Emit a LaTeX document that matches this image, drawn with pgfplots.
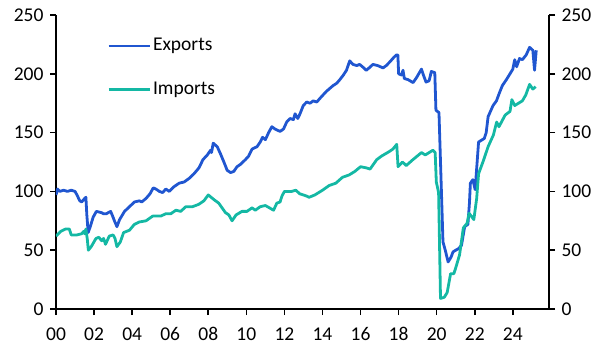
\documentclass[border=0pt]{standalone}
\usepackage{fontspec}
\setmainfont{Carlito}
\usepackage{pgfplots}
\pgfplotsset{compat=1.18}
\definecolor{expblue}{RGB}{32,86,208}
\definecolor{impteal}{RGB}{20,184,164}
\begin{document}
\fontsize{19}{22}\selectfont
\begin{tikzpicture}
\path[use as bounding box] (-56pt,-53pt) rectangle (551pt,309pt);
\begin{axis}[
  width=493pt, height=294pt, scale only axis,
  xmin=2000, xmax=2025.9, ymin=0, ymax=250,
  axis x line*=bottom, axis y line*=left,
  axis line style={line width=2pt, -},
  tick align=outside, major tick length=6pt,
  tick style={line width=1.6pt, black},
  xtick={2000,2002,...,2024},
  xticklabels={00,02,04,06,08,10,12,14,16,18,20,22,24},
  xticklabel style={yshift=-6pt},
  ytick={0,50,...,250},
  /pgf/number format/assume math mode=true,
  ticklabel style={font=\fontsize{19.5}{19.5}\selectfont},
  legend cell align=left,
  legend image code/.code={\draw[#1,line width=2.8pt](0pt,0pt)--(41pt,0pt);},
  legend style={draw=none, fill=none, at={(0.1035,0.928)}, anchor=north west,
    inner sep=0pt, row sep=24pt, font=\fontsize{19.5}{19.5}\selectfont,
    nodes={inner sep=2pt}},
]
\addplot[expblue, line width=2.8pt, line join=round] coordinates {
(2000.00,97)(2000.08,102)(2000.20,100)(2000.40,101)(2000.60,100)(2000.80,101)
(2001.00,100)(2001.10,97)(2001.25,92)(2001.35,91)(2001.45,93)(2001.57,95)
(2001.62,80)(2001.69,65)(2001.80,70)(2001.95,78)(2002.12,83)(2002.38,82)
(2002.50,81)(2002.64,81)(2002.87,83)(2002.95,80)(2003.07,75)(2003.20,70)
(2003.34,76)(2003.60,83)(2003.86,87)(2004.12,91)(2004.38,92)(2004.50,91)
(2004.73,94)(2004.94,98)(2005.11,103)(2005.25,102)(2005.43,100)(2005.60,99)
(2005.77,102)(2005.95,100)(2006.20,104)(2006.47,107)(2006.73,108)(2006.99,111)
(2007.25,115)(2007.51,120)(2007.72,127)(2007.95,131)(2008.12,135)(2008.17,133)
(2008.26,141)(2008.47,138)(2008.64,132)(2008.82,125)(2008.99,118)(2009.17,116)
(2009.34,117)(2009.51,121)(2009.69,123)(2009.95,127)(2010.12,130)(2010.30,136)
(2010.56,138)(2010.73,142)(2010.85,146)(2011.00,144)(2011.17,150)(2011.34,155)
(2011.51,153)(2011.77,151)(2011.95,153)(2012.12,159)(2012.30,162)(2012.47,161)
(2012.56,166)(2012.70,162)(2012.82,166)(2012.99,173)(2013.17,176)(2013.35,175)
(2013.51,177)(2013.70,176)(2013.86,179)(2014.20,185)(2014.56,190)(2014.75,192)
(2014.91,195)(2015.10,199)(2015.26,203)(2015.43,211)(2015.60,208)(2015.80,207)
(2015.95,208)(2016.10,206)(2016.30,203)(2016.45,205)(2016.65,208)(2016.90,207)
(2017.18,205)(2017.35,207)(2017.53,210)(2017.75,214)(2017.88,216)(2017.96,216)
(2018.00,200)(2018.15,199)(2018.23,203)(2018.30,196)(2018.50,195)(2018.76,192.5)
(2018.95,197)(2019.20,204)(2019.30,199)(2019.44,193)(2019.60,194)(2019.72,202)
(2019.90,201)(2019.96,169)(2020.12,167)(2020.33,57)(2020.45,50)(2020.60,40)
(2020.75,44)(2020.86,48.6)(2021.00,50)(2021.12,51)(2021.30,54)(2021.47,70)
(2021.64,72)(2021.72,90)(2021.77,107)(2021.90,110)(2022.02,101.5)(2022.20,142)
(2022.50,145)(2022.60,150)(2022.70,163.5)(2022.96,173)(2023.14,177)(2023.30,184)
(2023.45,190)(2023.66,195)(2023.85,200)(2024.00,204)(2024.10,212)(2024.20,206)
(2024.35,213)(2024.50,212)(2024.70,216)(2024.88,222.5)(2025.05,220)(2025.14,203)
(2025.23,220)
};
\addlegendentry{Exports}
\addplot[impteal, line width=2.8pt, line join=round] coordinates {
(2000.00,62)(2000.25,66)(2000.50,68)(2000.70,68)(2000.80,63)(2001.10,63)
(2001.35,64)(2001.45,66)(2001.50,64)(2001.57,68)(2001.64,60)(2001.70,50)
(2001.85,53)(2002.10,60)(2002.25,61)(2002.40,58)(2002.50,60)(2002.60,55)
(2002.80,62)(2003.00,63)(2003.10,60)(2003.20,53)(2003.38,57)(2003.55,65)
(2003.86,67)(2004.12,72)(2004.38,74)(2004.73,75)(2005.08,79)(2005.50,79)
(2005.77,81)(2006.03,81)(2006.30,84)(2006.55,83)(2006.82,87)(2007.17,87)
(2007.50,89)(2007.77,92)(2008.00,97)(2008.30,93)(2008.55,90)(2008.90,82)
(2009.08,80)(2009.25,75)(2009.46,80)(2009.77,83)(2010.03,83)(2010.30,86)
(2010.47,84)(2010.73,87)(2011.00,88)(2011.43,84)(2011.60,90)(2011.77,91)
(2011.87,96)(2012.00,100)(2012.38,100)(2012.60,101)(2012.80,98)(2012.99,97)
(2013.17,96)(2013.30,95)(2013.60,97)(2014.00,101)(2014.35,105)(2014.70,107)
(2015.05,112)(2015.40,114)(2015.70,117)(2016.00,121)(2016.30,120)(2016.50,119)
(2016.85,127)(2017.10,130)(2017.52,134)(2017.70,136)(2017.90,140)(2017.97,121)
(2018.20,125)(2018.40,122)(2018.75,127)(2018.90,129)(2019.20,133)(2019.40,131)
(2019.80,135)(2019.92,133)(2019.98,108)(2020.10,99)(2020.20,9)(2020.40,10)
(2020.55,14)(2020.73,30)(2020.90,30)(2021.00,35)(2021.20,46)(2021.40,69)
(2021.60,73)(2021.70,81.5)(2021.95,76)(2022.10,94)(2022.20,115)(2022.45,126)
(2022.70,138)(2022.98,148)(2023.15,159)(2023.27,155)(2023.60,165)(2023.85,168)
(2023.95,178)(2024.10,173)(2024.50,177)(2024.68,182)(2024.88,191)(2025.05,187)
(2025.20,189)
};
\addlegendentry{Imports}
\end{axis}
\begin{axis}[
  width=493pt, height=294pt, scale only axis,
  xmin=2000, xmax=2025.9, ymin=0, ymax=250,
  axis x line=none, axis y line*=right,
  axis line style={line width=2pt, -},
  tick align=outside, major tick length=6pt,
  tick style={line width=1.6pt, black},
  ytick={0,50,...,250},
  /pgf/number format/assume math mode=true,
  ticklabel style={font=\fontsize{19.5}{19.5}\selectfont},
]
\end{axis}
\end{tikzpicture}
\end{document}
